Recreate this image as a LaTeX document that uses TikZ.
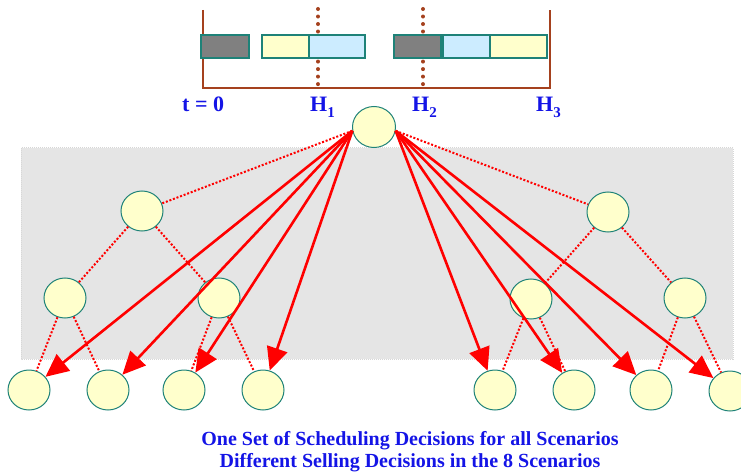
\documentclass[tikz,border=0pt]{standalone}
\usepackage{fontspec}
\setmainfont{Liberation Serif}
\usetikzlibrary{shapes.geometric,arrows.meta}
\definecolor{nodefill}{RGB}{255,255,204}
\definecolor{teal1}{RGB}{30,130,120}
\definecolor{brown1}{RGB}{165,65,30}
\definecolor{txtblue}{RGB}{20,20,230}
\definecolor{darkbox}{RGB}{128,128,128}
\definecolor{bluebox}{RGB}{204,236,255}
\definecolor{panel}{RGB}{229,229,229}
\definecolor{panelborder}{RGB}{215,215,215}
\begin{document}
\begin{tikzpicture}[x=1pt,y=-1pt,
 scen/.style={ellipse, draw=teal1, fill=nodefill, line width=1pt, minimum width=42pt, minimum height=40pt, inner sep=0pt},
 tbox/.style={draw=teal1, line width=1.5pt},
 axisline/.style={draw=brown1, line width=2pt},
 hdot/.style={draw=brown1, line width=4pt, line cap=round, dash pattern=on 0.01pt off 7.5pt},
 tree/.style={draw=red, line width=2pt, dash pattern=on 2pt off 1.8pt},
 dec/.style={draw=red, line width=2.6pt, -{Triangle[length=23pt,width=21pt]}},
 lbl/.style={text=txtblue, font=\bfseries\fontsize{22}{24}\selectfont, inner sep=0pt, anchor=base west},
 captxt/.style={text=txtblue, font=\bfseries\fontsize{20}{22}\selectfont, inner sep=0pt, anchor=base},
]
\useasboundingbox (0,0) rectangle (741,473);

% timeline
\draw[hdot] (318,9) -- (318,88);
\draw[hdot] (423,9) -- (423,88);
\draw[axisline] (203,10) -- (203,88) -- (550,88) -- (550,10);
\draw[tbox, fill=darkbox] (201,35) rectangle (249,58);
\draw[tbox, fill=nodefill] (262,35) rectangle (309,58);
\draw[tbox, fill=bluebox] (309,35) rectangle (365,58);
\draw[tbox, fill=darkbox] (394,35) rectangle (441,58);
\draw[tbox, fill=bluebox] (443,35) rectangle (490,58);
\draw[tbox, fill=nodefill] (490,35) rectangle (547,58);

\node[lbl] (t0) at (182,112) {t = 0};
\node[lbl] (h1) at (310,112) {H\raisebox{-6pt}{\fontsize{15}{15}\selectfont 1}};
\node[lbl] (h2) at (412,112) {H\raisebox{-6pt}{\fontsize{15}{15}\selectfont 2}};
\node[lbl] (h3) at (536,112) {H\raisebox{-6pt}{\fontsize{15}{15}\selectfont 3}};

% panel
\fill[panel] (21,148) rectangle (733,359);
\draw[panelborder, line width=1pt, dash pattern=on 1pt off 1pt] (21,148) rectangle (733,359);

% nodes
\node[scen, minimum width=43pt, minimum height=41pt] (top) at (374,127) {};
\node[scen] (a) at (142,211) {};
\node[scen] (b) at (608,212) {};
\node[scen] (aa) at (65,298) {};
\node[scen] (ab) at (219,298) {};
\node[scen] (ba) at (531,299) {};
\node[scen] (bb) at (685,298) {};
\node[scen] (l1) at (29,390) {};
\node[scen] (l2) at (108,390) {};
\node[scen] (l3) at (184,390) {};
\node[scen] (l4) at (263,390) {};
\node[scen] (l5) at (495,390) {};
\node[scen] (l6) at (574,390) {};
\node[scen] (l7) at (651,390) {};
\node[scen] (l8) at (730,391) {};

\coordinate (sl) at (top.190);
\coordinate (sr) at (top.350);

% tree edges (dotted)
\draw[tree] (sl) -- (a);
\draw[tree] (sr) -- (b);
\draw[tree] (a) -- (aa);
\draw[tree] (a) -- (ab);
\draw[tree] (b) -- (ba);
\draw[tree] (b) -- (bb);
\draw[tree] (aa) -- (l1);
\draw[tree] (aa) -- (l2);
\draw[tree] (ab) -- (l3);
\draw[tree] (ab) -- (l4);
\draw[tree] (ba) -- (l5);
\draw[tree] (ba) -- (l6);
\draw[tree] (bb) -- (l7);
\draw[tree] (bb) -- (l8);

% decision arrows
\draw[dec] (sl) -- (l1);
\draw[dec] (sl) -- (l2);
\draw[dec] (sl) -- (l3);
\draw[dec] (sl) -- (l4);
\draw[dec] (sr) -- (l5);
\draw[dec] (sr) -- (l6);
\draw[dec] (sr) -- (l7);
\draw[dec] (sr) -- (l8);

\node[captxt] (c1) at (410,445) {One Set of Scheduling Decisions for all Scenarios};
\node[captxt] (c2) at (410,467) {Different Selling Decisions in the 8 Scenarios};
\end{tikzpicture}
\end{document}
